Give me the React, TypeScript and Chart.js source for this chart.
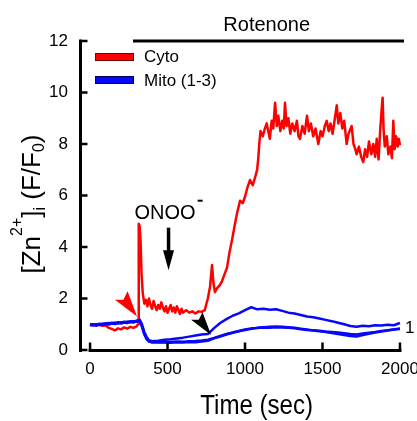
import React, { useEffect, useRef } from "react";
import { Chart, registerables } from "chart.js";

Chart.register(...registerables);

// ---------- data ----------
const cytoTime = [
  0, 20, 40, 60, 80, 100, 120, 140, 160, 180, 200, 220, 240, 260, 280, 300, 310, 314, 320, 326,
  332, 340, 350, 360, 370, 380, 390, 400, 410, 420, 430, 440, 450, 460, 470, 480, 490, 500, 510, 520,
  530, 540, 550, 560, 570, 580, 590, 600, 620, 640, 660, 680, 700, 720, 740, 760, 774, 787, 796, 806,
  820, 835, 850, 865, 884, 900, 916, 932, 948, 968, 985, 1000, 1015, 1032, 1050, 1065, 1078, 1085, 1092, 1100,
  1115, 1128, 1140, 1150, 1160, 1172, 1182, 1194, 1205, 1215, 1228, 1240, 1250, 1258, 1268, 1280, 1292, 1305, 1320, 1335,
  1345, 1355, 1370, 1385, 1400, 1412, 1425, 1440, 1455, 1473, 1488, 1500, 1515, 1527, 1540, 1552, 1565, 1580, 1592, 1602,
  1615, 1628, 1640, 1656, 1668, 1688, 1700, 1712, 1720, 1735, 1750, 1763, 1775, 1788, 1800, 1815, 1828, 1840, 1850, 1862,
  1872, 1880, 1888, 1894, 1902, 1915, 1925, 1938, 1948, 1957, 1966, 1975, 1985, 1992, 2000,
];
const cytoValues = [
  0.98, 0.96, 1.0, 0.97, 0.94, 0.96, 0.86, 0.82, 0.76, 0.84, 0.8, 0.88, 0.83, 0.9, 0.86, 0.92, 1.0, 4.9, 4.8, 4.2,
  3.0, 2.2, 1.8, 1.95, 1.7, 2.0, 1.75, 1.6, 1.9, 1.7, 1.55, 1.75, 1.6, 1.85, 1.65, 1.5, 1.7, 1.45, 1.6, 1.75,
  1.5, 1.65, 1.45, 1.7, 1.55, 1.4, 1.6, 1.45, 1.55, 1.45, 1.5, 1.42, 1.5, 1.48, 1.55, 2.0, 2.45, 3.3, 2.6, 2.25,
  2.4, 2.5, 2.65, 2.9, 3.2, 3.8, 4.27, 4.8, 5.3, 5.8, 5.7, 5.95, 6.3, 6.6, 6.4, 6.7, 7.0, 7.4, 8.0, 8.5,
  8.3, 8.6, 8.8, 8.5, 8.2, 8.9, 8.6, 9.6, 8.7, 9.1, 8.5, 8.9, 8.6, 9.6, 8.7, 9.0, 8.4, 8.8, 8.5, 8.9,
  8.3, 8.2, 8.7, 8.4, 9.1, 8.5, 8.8, 8.3, 8.6, 8.0, 8.5, 8.3, 8.7, 8.9, 8.5, 8.8, 8.4, 9.0, 9.5, 8.8,
  9.2, 8.6, 8.9, 8.0, 8.4, 8.7, 8.0, 7.8, 7.6, 7.9, 7.5, 7.3, 7.8, 7.5, 8.1, 7.6, 8.0, 7.5, 8.2, 7.4,
  8.5, 9.2, 9.8, 8.6, 7.9, 8.3, 7.6, 7.9, 7.45, 8.9, 7.8, 8.3, 7.9, 8.2, 7.95,
];

const mitoTime = [
  0, 20, 40, 60, 80, 100, 120, 140, 160, 180, 200, 220, 240, 260, 280, 300, 320, 335, 350, 365,
  380, 400, 440, 480, 520, 560, 600, 640, 680, 720, 760, 800, 840, 880, 920, 960, 1000, 1040, 1080, 1120,
  1160, 1200, 1240, 1280, 1320, 1360, 1400, 1440, 1480, 1520, 1560, 1600, 1640, 1680, 1720, 1760, 1800, 1840, 1880, 1920,
  1960, 2000,
];
const mito1 = [
  0.98, 1.0, 0.97, 1.02, 1.0, 1.04, 1.02, 1.06, 1.04, 1.08, 1.06, 1.1, 1.08, 1.12, 1.1, 1.14, 1.18, 1.0, 0.7, 0.5,
  0.38, 0.34, 0.36, 0.4, 0.42, 0.45, 0.48, 0.52, 0.56, 0.6, 0.62, 0.85, 1.05, 1.2, 1.33, 1.42, 1.55, 1.66, 1.58, 1.6,
  1.56, 1.58, 1.52, 1.45, 1.42, 1.36, 1.3, 1.27, 1.22, 1.17, 1.12, 1.06, 1.0, 0.93, 0.9, 0.94, 0.92, 0.96, 0.95, 0.98,
  0.96, 1.05,
];
const mito2 = [
  1.0, 0.96, 1.0, 0.98, 1.02, 1.0, 1.05, 1.03, 1.06, 1.04, 1.08, 1.06, 1.1, 1.08, 1.12, 1.1, 1.15, 0.95, 0.65, 0.45,
  0.35, 0.3, 0.29, 0.3, 0.28, 0.3, 0.29, 0.31, 0.3, 0.33, 0.36, 0.45, 0.52, 0.6, 0.67, 0.73, 0.78, 0.82, 0.86, 0.88,
  0.9, 0.91, 0.9, 0.88, 0.86, 0.83, 0.8, 0.76, 0.73, 0.7, 0.66, 0.62, 0.58, 0.54, 0.52, 0.58, 0.63, 0.68, 0.72, 0.76,
  0.8, 0.84,
];
const mito3 = [
  0.95, 0.98, 0.94, 0.99, 0.97, 1.01, 0.99, 1.03, 1.01, 1.05, 1.03, 1.07, 1.05, 1.09, 1.07, 1.11, 1.13, 0.9, 0.6, 0.42,
  0.33, 0.3, 0.31, 0.32, 0.31, 0.33, 0.32, 0.34, 0.35, 0.37, 0.4, 0.47, 0.55, 0.62, 0.68, 0.74, 0.8, 0.84, 0.85, 0.87,
  0.86, 0.88, 0.87, 0.86, 0.84, 0.81, 0.78, 0.77, 0.75, 0.72, 0.7, 0.68, 0.65, 0.62, 0.6, 0.64, 0.67, 0.7, 0.74, 0.77,
  0.8, 0.82,
];

const xTicks = [0, 500, 1000, 1500, 2000];
const yTicks = [0, 2, 4, 6, 8, 10, 12];
const seriesLabels = ["Cyto", "Mito (1-3)"];
const xTitle = "Time (sec)";
const rotenoneLabel = "Rotenone";
const rotenoneStart = 277;
const rotenoneEnd = 2026;
const onooLabel = "ONOO";
const onooTime = 500;
const onooArrowTop = 4.75;
const onooArrowTip = 3.1;
const redArrowTip = [303, 1.3];
const blackArrowTip = [781, 0.58];
const sideLabel = "1";

const X_MIN = -65;
const X_MAX = 2026;
const FONT = '"Liberation Sans", Arial, Helvetica, sans-serif';
const RED = "#ff0000";
const BLUE = "#0808f8";

const toPoints = (t: number[], v: number[]) => t.map((x, i) => ({ x, y: v[i] }));

const overlayPlugin = {
  id: "overlay",
  afterDraw(chart: any) {
    const ctx: CanvasRenderingContext2D = chart.ctx;
    const xs = chart.scales.x;
    const ys = chart.scales.y;
    const ca = chart.chartArea;
    const px = (v: number) => xs.getPixelForValue(v);
    const py = (v: number) => ys.getPixelForValue(v);
    ctx.save();
    ctx.strokeStyle = "#000";
    ctx.fillStyle = "#000";
    ctx.lineCap = "butt";

    // y axis line + inward ticks
    const yAxisX = ca.left + 0.5;
    ctx.lineWidth = 3;
    ctx.beginPath();
    ctx.moveTo(yAxisX, py(12) - 1.5);
    ctx.lineTo(yAxisX, py(0) + 2);
    ctx.stroke();
    ctx.lineWidth = 2.5;
    yTicks.forEach((v) => {
      ctx.beginPath();
      ctx.moveTo(yAxisX, py(v));
      ctx.lineTo(yAxisX + 7, py(v));
      ctx.stroke();
    });

    // x axis line + inward ticks
    const xAxisY = py(0) + 0.5;
    ctx.lineWidth = 3;
    ctx.beginPath();
    ctx.moveTo(px(0) - 1.5, xAxisY);
    ctx.lineTo(px(2000) + 1.5, xAxisY);
    ctx.stroke();
    ctx.lineWidth = 2.5;
    xTicks.forEach((v) => {
      ctx.beginPath();
      ctx.moveTo(px(v), xAxisY);
      ctx.lineTo(px(v), xAxisY - 8);
      ctx.stroke();
    });

    // Rotenone bar
    ctx.lineWidth = 3;
    ctx.beginPath();
    ctx.moveTo(px(rotenoneStart), py(12));
    ctx.lineTo(px(rotenoneEnd), py(12));
    ctx.stroke();
    ctx.font = `20px ${FONT}`;
    ctx.textAlign = "center";
    ctx.textBaseline = "alphabetic";
    ctx.fillText(rotenoneLabel, px(1140), py(12) - 10);

    // legend
    const lx = ca.left + 15;
    const ly = ca.top + 12;
    ctx.lineWidth = 1;
    ctx.fillStyle = RED;
    ctx.fillRect(lx, ly, 39, 8);
    ctx.strokeStyle = "#7a0000";
    ctx.strokeRect(lx + 0.5, ly + 0.5, 38, 7);
    ctx.fillStyle = BLUE;
    ctx.fillRect(lx, ly + 23, 39, 8);
    ctx.strokeStyle = "#00005a";
    ctx.strokeRect(lx + 0.5, ly + 23.5, 38, 7);
    ctx.fillStyle = "#000";
    ctx.strokeStyle = "#000";
    ctx.font = `17px ${FONT}`;
    ctx.textAlign = "left";
    ctx.fillText(seriesLabels[0], lx + 49, ly + 9);
    ctx.fillText(seriesLabels[1], lx + 49, ly + 33);

    // ONOO- label + arrow
    ctx.font = `20px ${FONT}`;
    ctx.textAlign = "left";
    const onooX = px(onooTime) - 33;
    const onooY = py(onooArrowTop) - 9;
    ctx.fillText(onooLabel, onooX, onooY);
    const ow = ctx.measureText(onooLabel).width;
    ctx.lineWidth = 2;
    ctx.beginPath();
    ctx.moveTo(onooX + ow + 2, onooY - 18);
    ctx.lineTo(onooX + ow + 7, onooY - 18);
    ctx.stroke();
    const ax = px(onooTime) + 1;
    ctx.lineWidth = 3.5;
    ctx.beginPath();
    ctx.moveTo(ax, py(onooArrowTop));
    ctx.lineTo(ax, py(onooArrowTip) - 14);
    ctx.stroke();
    ctx.beginPath();
    ctx.moveTo(ax - 5.5, py(onooArrowTip) - 20);
    ctx.lineTo(ax + 5.5, py(onooArrowTip) - 20);
    ctx.lineTo(ax, py(onooArrowTip));
    ctx.closePath();
    ctx.fill();

    // arrowheads
    const head = (tip: number[], color: string, sc: number) => {
      const tx = px(tip[0]);
      const ty = py(tip[1]);
      ctx.fillStyle = color;
      ctx.beginPath();
      ctx.moveTo(tx, ty);
      ctx.lineTo(tx - 21 * sc, ty - 16 * sc);
      ctx.lineTo(tx - 13 * sc, ty - 16 * sc);
      ctx.lineTo(tx - 9 * sc, ty - 24 * sc);
      ctx.closePath();
      ctx.fill();
    };
    head(redArrowTip, RED, 1.05);
    head(blackArrowTip, "#000", 0.95);

    // side label
    ctx.fillStyle = "#000";
    ctx.font = `17px ${FONT}`;
    ctx.textAlign = "left";
    ctx.fillText(sideLabel, ca.right + 1, py(0.65));

    // x title
    ctx.save();
    ctx.font = `28px ${FONT}`;
    ctx.textAlign = "center";
    ctx.translate(px(1075), ca.bottom + 64);
    ctx.scale(0.86, 1);
    ctx.fillText(xTitle, 0, 0);
    ctx.restore();

    // y title with super/subscripts
    const big = `26px ${FONT}`;
    const small = `16px ${FONT}`;
    const runs: [string, string, number][] = [
      ["[Zn", big, 0],
      ["2+", small, -18],
      ["]", big, 0],
      ["i", small, 5],
      [" (F/F", big, 0],
      ["0", small, 4],
      [")", big, 0],
    ];
    let total = 0;
    runs.forEach(([t, f]) => {
      ctx.font = f;
      total += ctx.measureText(t).width;
    });
    ctx.save();
    ctx.translate(ca.left - 40, ca.top + 163);
    ctx.rotate(-Math.PI / 2);
    ctx.textAlign = "left";
    let cx = -total / 2;
    runs.forEach(([t, f, dy]) => {
      ctx.font = f;
      ctx.fillText(t, cx, dy);
      cx += ctx.measureText(t).width;
    });
    ctx.restore();

    ctx.restore();
  },
};

export default function App() {
  const canvasRef = useRef<HTMLCanvasElement | null>(null);

  useEffect(() => {
    if (!canvasRef.current) return;
    const chart = new Chart(canvasRef.current, {
      type: "line",
      data: {
        datasets: [
          { label: "Mito 1", data: toPoints(mitoTime, mito1), borderColor: BLUE, borderWidth: 2.5, pointRadius: 0, fill: false },
          { label: "Mito 2", data: toPoints(mitoTime, mito2), borderColor: BLUE, borderWidth: 2.5, pointRadius: 0, fill: false },
          { label: "Mito 3", data: toPoints(mitoTime, mito3), borderColor: BLUE, borderWidth: 2.5, pointRadius: 0, fill: false },
          { label: seriesLabels[0], data: toPoints(cytoTime, cytoValues), borderColor: RED, borderWidth: 2.5, pointRadius: 0, fill: false },
        ],
      },
      options: {
        animation: false,
        responsive: false,
        devicePixelRatio: 1,
        layout: { autoPadding: false, padding: { left: 0, top: 41, right: 13, bottom: 0 } },
        plugins: { legend: { display: false }, tooltip: { enabled: false }, title: { display: false } },
        elements: { line: { tension: 0, borderJoinStyle: "round" } },
        scales: {
          x: {
            type: "linear",
            min: X_MIN,
            max: X_MAX,
            grid: { display: false, drawTicks: false },
            border: { display: false },
            ticks: {
              color: "#000",
              font: { family: FONT, size: 17 },
              padding: 9,
              maxRotation: 0,
              callback: (v: any) => String(v),
            },
            afterBuildTicks: (s: any) => {
              s.ticks = xTicks.map((v) => ({ value: v }));
            },
            afterFit: (s: any) => {
              s.height = 71;
              s.paddingLeft = 0;
              s.paddingRight = 0;
            },
          },
          y: {
            min: 0,
            max: 12,
            grid: { display: false, drawTicks: false },
            border: { display: false },
            ticks: {
              color: "#000",
              font: { family: FONT, size: 17 },
              padding: 12,
              callback: (v: any) => String(v),
            },
            afterBuildTicks: (s: any) => {
              s.ticks = yTicks.map((v) => ({ value: v }));
            },
            afterFit: (s: any) => {
              s.width = 80;
              s.paddingTop = 0;
              s.paddingBottom = 0;
            },
          },
        },
      },
      plugins: [overlayPlugin],
    });
    return () => chart.destroy();
  }, []);

  return (
    <div style={{ position: "fixed", left: 0, top: 0, width: 417, height: 421, background: "#fff" }}>
      <canvas ref={canvasRef} width={417} height={421} style={{ display: "block" }} />
    </div>
  );
}
